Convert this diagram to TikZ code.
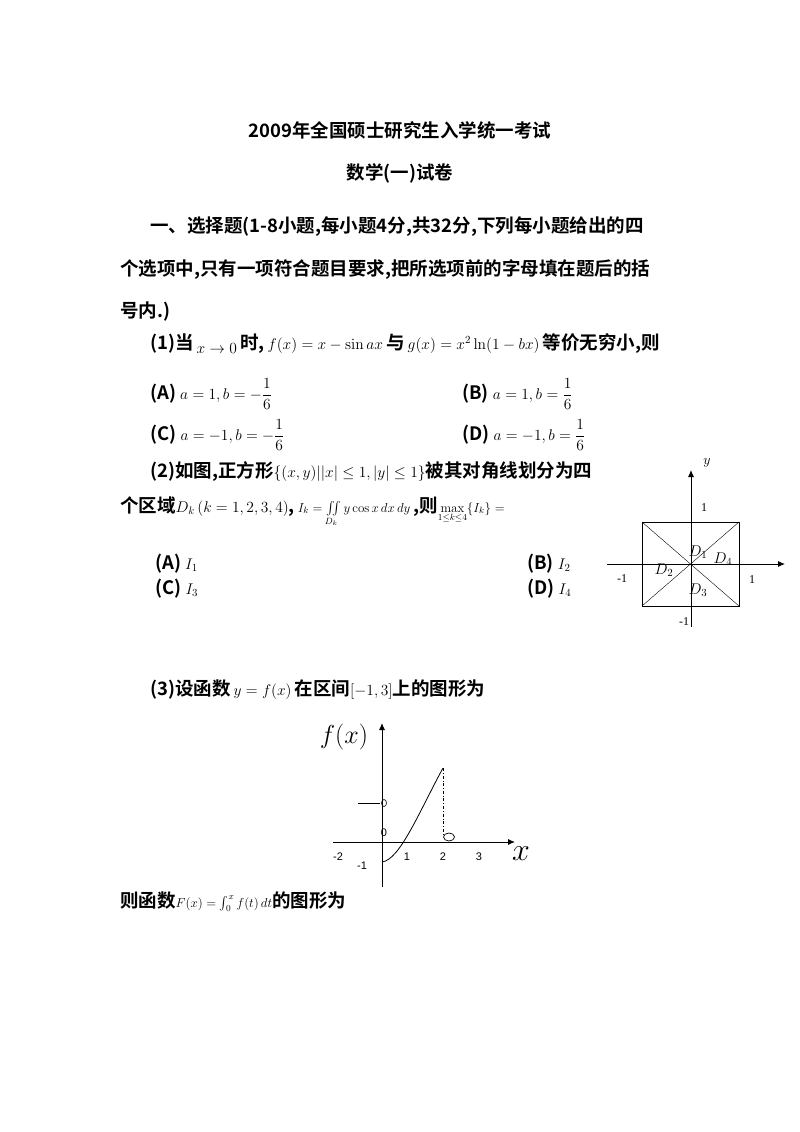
\RequirePackage{fix-cm}
\documentclass[tikz,border=0pt]{standalone}
\usepackage{amsmath,amssymb}
\usepackage[no-math]{fontspec}
\setmainfont{Noto Sans CJK SC}[UprightFont={* Bold}]
\newfontfamily\labf{Liberation Serif}
\newfontfamily\labs{Liberation Sans}
\newcommand{\mm}[1]{{\fontsize{15.5}{17}\selectfont$#1$}}
\newcommand{\ms}[1]{{\fontsize{13}{15}\selectfont$#1$}}
\tikzset{txt/.style={anchor=base west,inner sep=0pt,font=\fontsize{18.5}{20}\selectfont},
ctr/.style={anchor=base,inner sep=0pt,font=\fontsize{18.5}{20}\selectfont},
lab/.style={inner sep=0pt,font=\labf\fontsize{12}{12}\selectfont},
labg/.style={inner sep=0pt,font=\labs\fontsize{11}{12}\selectfont},
ax/.style={line width=0.9pt,-{Latex[length=7pt,width=6pt]}}}
\usetikzlibrary{arrows.meta}
\begin{document}
\begin{tikzpicture}[x=1pt,y=-1pt]
\useasboundingbox (0,0) rectangle (800,1132);
\node[ctr] (t1) at (400,137) {2009年全国硕士研究生入学统一考试};
\node[ctr] (t2) at (400,179) {数学(一)试卷};
\node[txt] (l1) at (150,232) {一、选择题(1-8小题,每小题4分,共32分,下列每小题给出的四};
\node[txt] (l2) at (120,275) {个选项中,只有一项符合题目要求,把所选项前的字母填在题后的括};
\node[txt] (l3) at (120,317) {号内.)};
\node[txt] (q1) at (150,349) {(1)当\,\raisebox{-4pt}{\mm{x\to0}}\,时,\,\mm{f(x)=x-\sin ax}\,与\,\mm{g(x)=x^2\ln(1-bx)}\,等价无穷小,则};
\node[txt] (a1) at (150,399) {(A) \mm{a=1,b=-\dfrac16}};
\node[txt] (b1) at (462,399) {(B) \mm{a=1,b=\dfrac16}};
\node[txt] (c1) at (150,440) {(C) \mm{a=-1,b=-\dfrac16}};
\node[txt] (d1) at (462,440) {(D) \mm{a=-1,b=\dfrac16}};
\node[txt] (q2) at (150,477) {(2)如图,正方形\mm{\{(x,y)||x|\le1,|y|\le1\}}被其对角线划分为四};
\node[txt] (q2b) at (120,512) {个区域\mm{D_k\,(k=1,2,3,4)},\,\ms{I_k=\iint\limits_{D_k}y\cos x\,dx\,dy}\,,则\ms{\max\limits_{1\le k\le4}\{I_k\}=}};
\node[txt] (a2) at (155,569) {(A) \mm{I_1}};
\node[txt] (b2) at (527,569) {(B) \mm{I_2}};
\node[txt] (c2) at (155,594) {(C) \mm{I_3}};
\node[txt] (d2) at (527,594) {(D) \mm{I_4}};
% square figure
\draw[line width=0.6pt] (642,522) rectangle (739,606);
\draw[line width=0.4pt] (642,522) -- (739,606) (739,522) -- (642,606);
\draw[ax] (607,564) -- (785,564);
\draw[ax] (691,627) -- (691,470);
\node[lab,font=\fontsize{14}{14}\selectfont] (yl) at (707,463) {$y$};
\node[lab] (o1) at (704,508) {1};
\node[lab] (m1) at (622,579) {-1};
\node[lab] (p1) at (752,580) {1};
\node[lab] (m1b) at (684,622) {-1};
\node[lab] (D1) at (698,552) {\mm{D_1}};
\node[lab] (D4) at (723,559) {\mm{D_4}};
\node[lab] (D2) at (664,570) {\mm{D_2}};
\node[lab] (D3) at (698,590) {\mm{D_3}};
\node[txt] (q3) at (150,695) {(3)设函数\,\mm{y=f(x)}\,在区间\mm{[-1,3]}上的图形为};
% function graph
\draw[ax] (333,842) -- (515,842);
\draw[ax] (382,887) -- (382,723);
\draw[line width=0.8pt] (358,803) -- (380,803);
\draw[line width=0.6pt] (384,803) ellipse (2.5 and 3.5);
\draw[line width=0.8pt] (382,862) .. controls (400,860) and (420,810) .. (443,768);
\draw[line width=0.6pt,dash dot] (443,768) -- (443,835);
\draw[line width=0.7pt] (449,837) ellipse (5.5 and 4);
\node[labg] (f0) at (384,833) {0};
\node[labg] (fm2) at (338,857) {-2};
\node[labg] (fm1) at (362,866) {-1};
\node[labg] (f1) at (407,857) {1};
\node[labg] (f2) at (443,857) {2};
\node[labg] (f3) at (479,857) {3};
\node[lab,font=\fontsize{26}{28}\selectfont] (fx) at (344,737) {$f(x)$};
\node[lab,font=\fontsize{32}{32}\selectfont] (xl) at (521,854) {$x$};
\node[txt] (q3b) at (120,907) {则函数\ms{F(x)=\int_0^x f(t)\,dt}的图形为};
\end{tikzpicture}
\end{document}
